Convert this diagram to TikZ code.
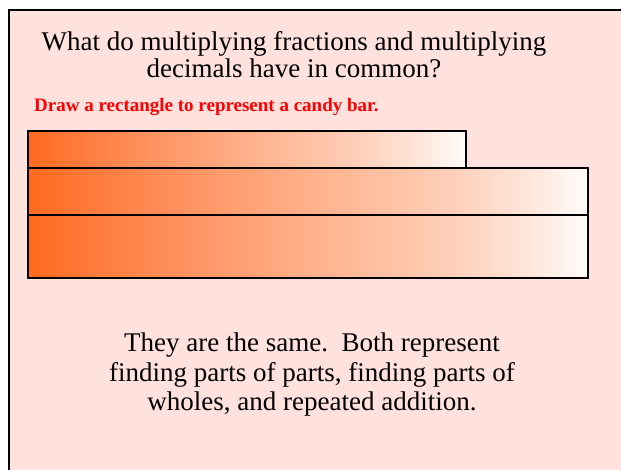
\documentclass[tikz,border=0pt]{standalone}
\usepackage{fontspec}
\setmainfont{Liberation Serif}
\usetikzlibrary{positioning}
\definecolor{slidepink}{HTML}{FFE1DE}
\definecolor{candyA}{HTML}{FF6A1F}
\definecolor{candyB}{HTML}{FF8E5A}
\definecolor{candyC}{HTML}{FFB08A}
\definecolor{candyD}{HTML}{FFCEB8}
\definecolor{candyE}{HTML}{FFE7DC}
\definecolor{candyF}{HTML}{FFFCFA}
\pgfdeclarehorizontalshading{candy}{100bp}{
	color(0bp)=(candyA); color(25bp)=(candyA); color(37.5bp)=(candyB);
	color(50bp)=(candyC); color(62.5bp)=(candyD); color(70bp)=(candyE);
	color(75bp)=(candyF); color(100bp)=(candyF)}
\tikzset{bar/.style={draw=black,line width=1.5pt,shading=candy}}

\begin{document}
\begin{tikzpicture}[x=1pt,y=-1pt]
		\useasboundingbox (0,0) rectangle (621,470);
		\fill[slidepink] (9,10) rectangle (621,470);
		\draw[line width=2pt] (9,470) -- (9,10) -- (621,10);
		\node (title) at (294,55) [align=center,font=\fontsize{27}{27}\selectfont] {What do multiplying fractions and multiplying\\decimals have in common?};
		\node (task) at (34,107.5) [anchor=west,inner sep=0pt,text=red,font=\bfseries\fontsize{19}{20}\selectfont] {Draw a rectangle to represent a candy bar.};
		% the candy bars
		\foreach \r/\a/\b in {466/131/168, 588/168/215, 588/215/278}
		{
			\shade[bar] (28,\a) rectangle (\r,\b);
		}
		\node (answer) at (312,375) [align=center,font=\fontsize{27}{29.5}\selectfont] {They are the same.\ \ Both represent\\finding parts of parts, finding parts of\\wholes, and repeated addition.};
	\end{tikzpicture}
\end{document}
